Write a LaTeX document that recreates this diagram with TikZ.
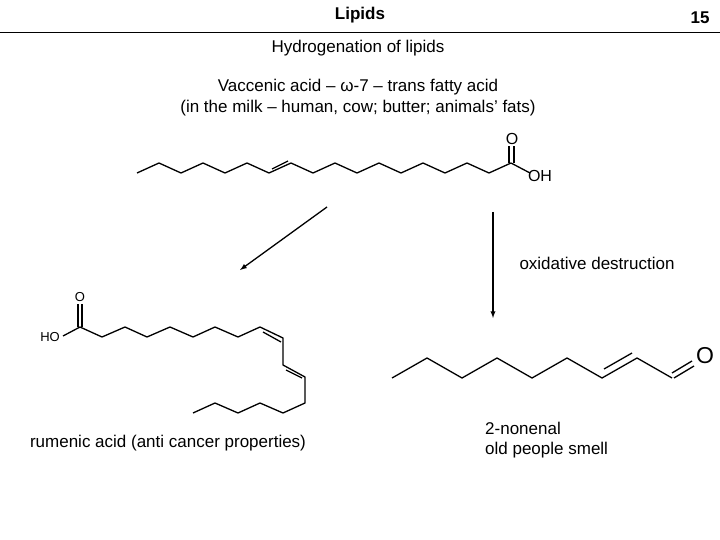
\documentclass[tikz,border=0pt]{standalone}
\usepackage{fontspec}
\setmainfont{Liberation Sans}
\begin{document}
\begin{tikzpicture}[x=1pt,y=-1pt,
  bond/.style={line width=1.3pt,line join=miter},
  txt/.style={font=\fontsize{17}{20}\selectfont,inner sep=0pt},
  atom/.style={font=\fontsize{16}{18}\selectfont,inner sep=0pt},
  arr/.style={-latex,line width=1.3pt}]
\useasboundingbox (0,0) rectangle (720,540);
\node[txt,font=\fontsize{17}{20}\selectfont\bfseries] (title) at (360,15) {Lipids};
\node[txt,font=\fontsize{17}{20}\selectfont\bfseries] (pg) at (700,18) {15};
\draw[line width=0.8pt] (0,32) -- (720,32);
\node[txt] (h) at (358,48) {Hydrogenation of lipids};
\node[txt] (v1) at (358,87) {Vaccenic acid – ω-7 – trans fatty acid};
\node[txt] (v2) at (358,108) {(in the milk – human, cow; butter; animals’ fats)};
% top molecule
\draw[bond] (137,173) foreach \i in {1,...,17}{ -- ({137+22*\i},{mod(\i,2)==0 ? 173 : 163}) };
\draw[bond] (272,169) -- (288,161);
\coordinate (c1) at (511,163);
\draw[bond] (c1) -- (530,173);
\draw[bond] (509,163) -- (509,146);
\draw[bond] (514,163) -- (514,146);
\node[atom] (o1) at (512,139) {O};
\node[atom] (oh1) at (540,176) {OH};
% left molecule
\draw[bond] (63,336) -- (80,327) -- (102,337) -- (125,327) -- (147,337) -- (170,327) -- (193,337) -- (215,327) -- (238,337) -- (260,327) -- (283,338) -- (283,365) -- (305,377) -- (305,403) -- (283,413) -- (260,403) -- (238,413) -- (215,403) -- (193,413);
\draw[bond] (263,332) -- (281,342);
\draw[bond] (286,370) -- (302,378);
\draw[bond] (78,327) -- (78,304);
\draw[bond] (82,327) -- (82,304);
\node[atom,font=\fontsize{13}{15}\selectfont] (o2) at (80,297) {O};
\node[atom,font=\fontsize{13}{15}\selectfont] (oh2) at (50,337) {HO};
% right molecule
\draw[bond] (392,378) -- (427,358) -- (462,378) -- (497,358) -- (532,378) -- (567,358) -- (602,378) -- (637,358) -- (672,378);
\draw[bond] (604,369) -- (632,353);
\draw[bond] (672,373) -- (692,361);
\draw[bond] (674,378) -- (694,366);
\node[atom,font=\fontsize{23}{26}\selectfont] (o3) at (705,356) {O};
% arrows
\coordinate (a1) at (327,207); \coordinate (a2) at (240,270);
\draw[arr] (a1) -- (a2);
\coordinate (b1) at (493,212); \coordinate (b2) at (493,318);
\draw[arr] (b1) -- (b2);
\node[txt] (ox) at (597,263) {oxidative destruction};
\node[txt] (ru) at (168,443) {rumenic acid (anti cancer properties)};
\node[txt,anchor=west,align=left] (nn) at (485,440) {2-nonenal\\old people smell};
\end{tikzpicture}
\end{document}
